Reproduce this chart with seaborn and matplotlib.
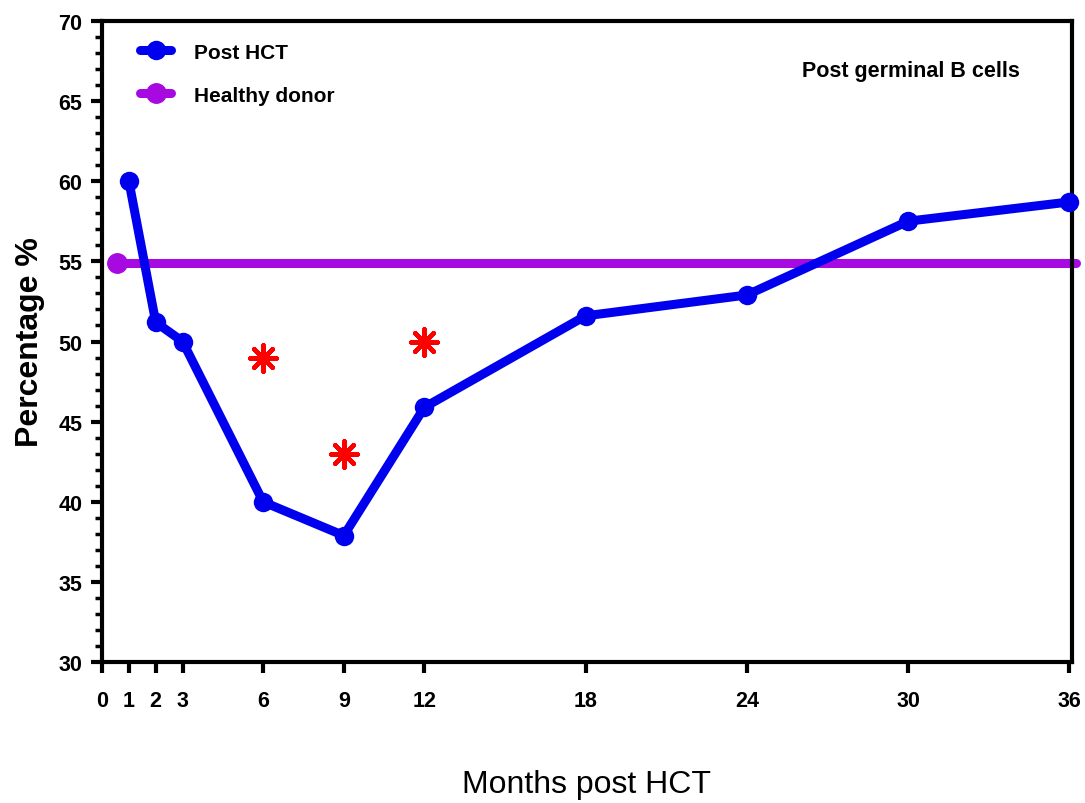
import matplotlib
matplotlib.use("Agg")
import matplotlib.pyplot as plt
import seaborn as sns
import pandas as pd
from matplotlib.ticker import MultipleLocator

# data
months = [1, 2, 3, 6, 9, 12, 18, 24, 30, 36]
post_hct = [60.0, 51.2, 50.0, 40.0, 37.9, 45.9, 51.6, 52.9, 57.5, 58.7]
healthy_x = [0.55, 36.25]
healthy_y = [54.9, 54.9]
star_months = [6, 9, 12]
star_values = [49.0, 43.0, 50.0]
x_ticks = [0, 1, 2, 3, 6, 9, 12, 18, 24, 30, 36]

sns.set_style("ticks")
plt.rcParams["font.family"] = ["Liberation Sans", "DejaVu Sans"]
plt.rcParams.update({"text.color": "black", "axes.labelcolor": "black",
                     "xtick.color": "black", "ytick.color": "black"})

df = pd.DataFrame({"month": months, "pct": post_hct})

fig = plt.figure(figsize=(10.85, 8.04), dpi=100)
ax = fig.add_axes([0.094, 0.175, 0.894, 0.798])

sns.lineplot(data=df, x="month", y="pct", color="#0000ee", lw=6.5, marker="o",
             markersize=14, markeredgewidth=0, label="Post HCT", ax=ax,
             clip_on=False, zorder=3)
ax.plot(healthy_x, healthy_y, color="#a70ae0", lw=6.5, clip_on=False, zorder=2)
ax.plot(healthy_x[:1], healthy_y[:1], "o", color="#a70ae0", markersize=14,
        clip_on=False, zorder=2)
# legend proxy for healthy donor
ax.plot([], [], color="#a70ae0", lw=6.5, marker="o", markersize=14,
        label="Healthy donor")
sns.scatterplot(x=star_months, y=star_values, marker=(8, 2, 0), s=360,
                color="red", linewidth=3.2, ax=ax, zorder=4)

ax.set_xlim(0, 36.1)
ax.set_ylim(30, 70)
ax.set_xticks(x_ticks)
ax.yaxis.set_major_locator(MultipleLocator(5))
ax.yaxis.set_minor_locator(MultipleLocator(1))

for s in ax.spines.values():
    s.set_linewidth(3)
    s.set_color("black")
ax.tick_params(axis="both", which="major", width=3, length=8, labelsize=15.5,
               direction="out", pad=6)
ax.tick_params(axis="y", which="minor", width=2.5, length=5, direction="out")
for lab in ax.get_xticklabels() + ax.get_yticklabels():
    lab.set_fontweight("bold")
ax.tick_params(axis="x", pad=12)

ax.set_xlabel("Months post HCT", fontsize=23, labelpad=42)
ax.set_ylabel("Percentage %", fontsize=23, fontweight="bold", labelpad=10)

ax.text(0.946, 0.922, "Post germinal B cells", transform=ax.transAxes,
        ha="right", va="center", fontsize=15.5, fontweight="bold")

leg = ax.legend(loc="upper left", frameon=False, handlelength=1.5,
                handletextpad=1.1, labelspacing=1.15,
                prop={"weight": "bold", "size": 15},
                bbox_to_anchor=(0.02, 0.995))

fig.savefig("out.png", dpi=100)
